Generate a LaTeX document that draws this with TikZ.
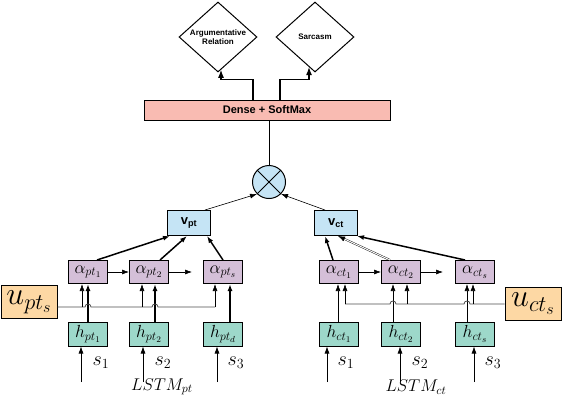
\RequirePackage{fix-cm}
\documentclass[tikz,border=0pt]{standalone}
\usepackage{amsmath}
\usepackage{fontspec}
\setsansfont{Liberation Sans}
\usetikzlibrary{shapes.geometric,arrows.meta}
\definecolor{saumon}{HTML}{F9BBB2}
\definecolor{bleuclair}{HTML}{C5E4F5}
\definecolor{mauve}{HTML}{D4BFD8}
\definecolor{vertd}{HTML}{9DD8CA}
\definecolor{orangec}{HTML}{FDD8A4}

\begin{document}
\begin{tikzpicture}[x=1pt,y=-1pt]
% définition des styles
\tikzstyle{boite}=[rectangle,draw,line width=1pt,inner sep=0pt,minimum width=39pt,minimum height=23pt]
\tikzstyle{attn}=[boite,fill=mauve,font=\fontsize{17.5}{19}\selectfont]
\tikzstyle{cache}=[boite,fill=vertd,minimum height=24pt,font=\fontsize{17.5}{19}\selectfont]
\tikzstyle{vecteur}=[boite,fill=bleuclair,minimum width=43pt,minimum height=25pt,font=\sffamily\bfseries\fontsize{13}{15}\selectfont]
\tikzstyle{util}=[boite,fill=orangec,minimum width=56pt,minimum height=33pt,font=\fontsize{32}{34}\selectfont]
\tikzstyle{sortie}=[diamond,draw,line width=1pt,minimum width=78pt,minimum height=70pt,inner sep=-2pt,shape aspect=1.1,align=center,font=\sffamily\bfseries\fontsize{8}{9.5}\selectfont]
\tikzstyle{etiq}=[font=\fontsize{20}{22}\selectfont]
\tikzstyle{fleche}=[-{Latex[length=7pt,width=5pt]},line width=0.6pt]
\tikzstyle{grosse}=[fleche,line width=1.5pt]
\tikzstyle{sortante}=[-{Latex[length=8pt,width=6pt]},line width=1.2pt]
\tikzstyle{fil}=[line width=0.8pt,black!70]
\useasboundingbox (0,0) rectangle (564,400);
% les nœuds
\node[sortie] (rel) at (218,37) {Argumentative\\Relation};
\node[sortie] (sarc) at (315,37) {Sarcasm};
\node[boite,fill=saumon,minimum width=246pt,minimum height=20pt,font=\sffamily\bfseries\fontsize{11}{13}\selectfont] (dense) at (267,110) {Dense + SoftMax};
\node[circle,draw,line width=1pt,fill=bleuclair,minimum size=33pt] (prod) at (269,182) {};
\draw[line width=1pt] (prod.north west) -- (prod.south east) (prod.north east) -- (prod.south west);
\node[vecteur] (vpt) at (189,223) {v\textsubscript{pt}};
\node[vecteur] (vct) at (336,223) {v\textsubscript{ct}};
\node[attn] (apt1) at (88,272) {$\alpha_{pt_1}$};
\node[attn] (apt2) at (149,272) {$\alpha_{pt_2}$};
\node[attn] (apts) at (223,272) {$\alpha_{pt_s}$};
\node[cache] (hpt1) at (88,334) {$h_{pt_1}$};
\node[cache] (hpt2) at (149,334) {$h_{pt_2}$};
\node[cache] (hptd) at (223,334) {$h_{pt_d}$};
\node[attn] (act1) at (339,272) {$\alpha_{ct_1}$};
\node[attn] (act2) at (401,272) {$\alpha_{ct_2}$};
\node[attn] (acts) at (475,272) {$\alpha_{ct_s}$};
\node[cache] (hct1) at (339,334) {$h_{ct_1}$};
\node[cache] (hct2) at (401,334) {$h_{ct_2}$};
\node[cache] (hcts) at (475,334) {$h_{ct_s}$};
\node[util] (upts) at (29,302) {$u_{pt_s}$};
\node[util] (ucts) at (533,304) {$u_{ct_s}$};
\node[etiq] (s1p) at (101,363) {$s_1$};
\node[etiq] (s2p) at (163,363) {$s_2$};
\node[etiq] (s3p) at (236,363) {$s_3$};
\node[etiq] (s1c) at (346,363) {$s_1$};
\node[etiq] (s2c) at (420,363) {$s_2$};
\node[etiq] (s3c) at (493,363) {$s_3$};
\node[etiq,font=\fontsize{17}{19}\selectfont] (lpt) at (162,387) {$LSTM_{pt}$};
\node[etiq,font=\fontsize{17}{19}\selectfont] (lct) at (416,387) {$LSTM_{ct}$};
% les points
\coordinate (fin1) at (192,272);
\coordinate (fin2) at (443,272);
\coordinate (ju1) at (82,307);
\coordinate (ju2) at (142,307);
\coordinate (ju3) at (215,307);
\coordinate (ju4) at (345,304);
\coordinate (ju5) at (407,304);
\coordinate (ju6) at (473,304);
\coordinate (e1) at (81,382);
\coordinate (e2) at (143,382);
\coordinate (e3) at (217,382);
\coordinate (e4) at (327,382);
\coordinate (e5) at (400,382);
\coordinate (e6) at (474,382);
% les flèches
\draw[sortante] ([xshift=-14pt]dense.north) -- ++(0,-20) -| ([xshift=3pt,yshift=2.7pt]rel.south);
\draw[sortante] ([xshift=13pt]dense.north) -- ++(0,-20) -| ([xshift=-6pt,yshift=5.4pt]sarc.south);
\draw[line width=0.8pt] (prod.north) -- (prod.north |- dense.south);
\draw[fleche] ([xshift=-6pt]vpt.north east) -- (prod.south west);
\draw[fleche] ([xshift=-11pt]vct.north) -- (prod.south east);
\draw[grosse] ([xshift=9pt]apt1.north) -- ([xshift=-19pt]vpt.south);
\draw[grosse] ([xshift=11pt]apt2.north) -- ([xshift=-2pt]vpt.south);
\draw[grosse] (apts.north) -- ([xshift=18pt]vpt.south);
\draw[grosse] ([xshift=-6pt]act1.north) -- ([xshift=-11pt]vct.south);
\draw[fleche,double,double distance=1pt,line width=0.4pt] ([xshift=-11pt]act2.north) -- ([xshift=2pt]vct.south);
\draw[grosse] ([xshift=-10pt]acts.north) -- ([xshift=-1pt]vct.south east);
\draw[fleche] (apt1) -- (apt2);
\draw[fleche] (apt2) -- (fin1);
\draw[fleche] (act1) -- (act2);
\draw[fleche] (act2) -- (fin2);
\draw[grosse] (hpt1.north) -- (apt1.south);
\draw[grosse] ([xshift=6pt]hpt2.north) -- ([xshift=6pt]apt2.south);
\draw[grosse] ([xshift=7pt]hptd.north) -- ([xshift=7pt]apts.south);
\draw[fleche] ([xshift=-1pt]hct1.north) -- ([xshift=-1pt]act1.south);
\draw[fleche] ([xshift=-8pt]hct2.north) -- ([xshift=-8pt]act2.south);
\draw[fleche] ([xshift=-8pt]hcts.north) -- ([xshift=-8pt]acts.south);
% les attentions
\draw[fil] ([yshift=-5pt]upts.east) -- (ju1) -- (85,307) .. controls (85,303) and (91,303) .. (91,307) -- (ju2) -- (152,307) .. controls (152,303) and (158,303) .. (158,307) -- (ju3);
\draw[fil] (ucts.west) -- (ju6) -- (470,304) .. controls (470,300) and (464,300) .. (464,304) -- (ju5) -- (396,304) .. controls (396,300) and (390,300) .. (390,304) -- (ju4);
\draw[fleche] (ju1) -- (ju1 |- apt1.south);
\draw[fleche] (ju2) -- (ju2 |- apt2.south);
\draw[fleche] (ju3) -- (ju3 |- apts.south);
\draw[fleche] (ju4) -- (ju4 |- act1.south);
\draw[fleche] (ju5) -- (ju5 |- act2.south);
\draw[fleche] (ju6) -- (ju6 |- acts.south);
% les entrées
\draw[fleche] (e1) -- (e1 |- hpt1.south);
\draw[fleche] (e2) -- (e2 |- hpt2.south);
\draw[fleche] (e3) -- (e3 |- hptd.south);
\draw[fleche] (e4) -- (e4 |- hct1.south);
\draw[fleche] (e5) -- (e5 |- hct2.south);
\draw[fleche] (e6) -- (e6 |- hcts.south);
\end{tikzpicture}
\end{document}
